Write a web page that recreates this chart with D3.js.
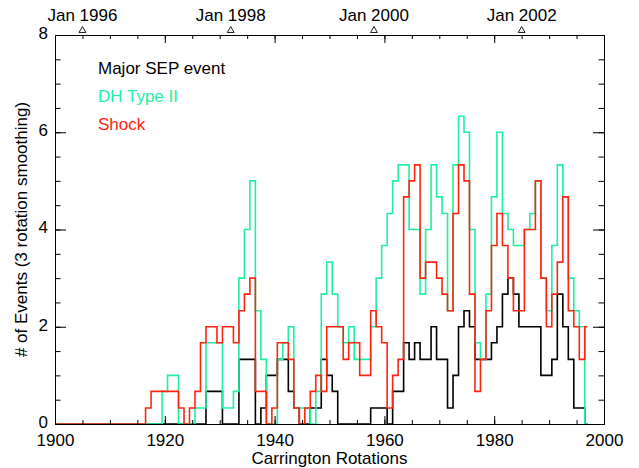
<!DOCTYPE html>
<html>
<meta charset="utf-8">
<style>
  body { margin: 0; background: #fff; }
  text { font-family: "Liberation Sans", Arial, sans-serif; }
</style>
<script src="https://d3js.org/d3.v7.min.js"></script>
<div id="chart"></div>
<script>

// Carrington rotation numbers 1900..1997, one value per rotation
var rotStart = 1900;

var sepEvents = [
  0,0,0,0,0,0,0,0,0,0, 0,0,0,0,0,0,0,0,0,0,            // 1900-1919
  0,0,0,0,0,0,0,0,0.67,0.67, 0.67,0,0,0,1.33,1.33,1.33,0,0.33,1,   // 1920-1939
  1,1.33,1.33,0.67,0.33,0,0,0.33,0.33,1.33, 1,0.67,0,0,0,0,0,0,0.33,0.33, // 1940-1959
  0.33,0,0.67,0.67,1.67,1.33,1.67,1.33,1.33,2, 1.33,1.33,0.33,1,2,2.33,2,1.33,1.33,1.33, // 1960-1979
  1.67,2,2.67,3,2.67,2,2,2,2,1, 1,1.33,2.67,2,1.33,0.33,0.33,0 // 1980-1997
];

var dhTypeII = [
  0,0,0,0,0,0,0,0,0,0, 0,0,0,0,0,0,0,0,0,0,            // 1900-1919
  0.67,1,1,0,0,0,0.33,0.33,1.67,1.67, 1.67,0.33,0.33,0.67,3,4,5,2.33,1.33,0, // 1920-1939
  0,1.33,1.67,2,0.33,0.33,0.33,0,0.67,2.67, 3.33,2.67,2,1.67,2,1.33,1.33,1.33,2,3, // 1940-1959
  3.67,4.33,5,5.33,5.33,4,4,2.67,4,5.33, 4.67,4.33,2.33,5.33,6.33,6,4,1.67,1.33,2.67, // 1960-1979
  4.67,6,4.33,4,3.67,3.67,4,4.33,5,3, 2.33,3.67,5.33,4.67,3,2.33,2,0 // 1980-1997
];

var shock = [
  0,0,0,0,0,0,0,0,0,0, 0,0,0,0,0,0,0,0.33,0.67,0.67,   // 1900-1919
  0.67,0.67,0.67,0.33,0,0.33,0.67,1.67,2,2, 1.67,2,2,1.67,2.33,2.67,3,0.67,0.67,0, // 1920-1939
  0.33,1.67,1.67,1.33,0.33,0,0.33,0.67,1,0.67, 2,2,2,1.33,1.67,1.67,1,1,2.33,2, // 1940-1959
  1.67,0.33,1,1.33,4.67,5,5.33,3,3.33,3.33, 3,2.67,2.33,4.33,5.33,5,2.67,0.67,1.33,2.33, // 1960-1979
  3.67,4.33,3.67,3,2.33,2.33,4,4,5,3, 2,2.67,3.33,4.67,2.33,2,1.33,2 // 1980-1997
];

var xTickLabels = [1900, 1920, 1940, 1960, 1980, 2000];
var yTickLabels = [0, 2, 4, 6, 8];

var dateLabels = ["Jan 1996", "Jan 1998", "Jan 2000", "Jan 2002"];
var dateRotations = [1905.0, 1932.0, 1958.1, 1985.0];

var legendNames = ["Major SEP event", "DH Type II", "Shock"];
var seriesColors = ["#000000", "#1ff0a0", "#ff2412"];

var width = 639, height = 468;
var margin = {top: 35, right: 35, bottom: 44, left: 55};
var fontSize = "17px";

var svg = d3.select("#chart")
  .append("svg")
    .attr("width", width)
    .attr("height", height);

var x = d3.scaleLinear()
  .domain([1900, 2000])
  .range([margin.left, width - margin.right]);

var y = d3.scaleLinear()
  .domain([0, 8])
  .range([height - margin.bottom, margin.top]);

var minorX = d3.range(1900, 2001, 5);
var minorY = d3.range(0, 8.01, 0.5);

// data lines, histogram style (steps halfway between rotations)
var line = d3.line()
  .x(function(d) { return x(d.cr); })
  .y(function(d) { return y(d.v); })
  .curve(d3.curveStep);

[sepEvents, dhTypeII, shock].forEach(function(s, i) {
  var pts = s.map(function(v, j) { return {cr: rotStart + j, v: v}; });
  svg.append("path")
    .datum(pts)
    .attr("fill", "none")
    .attr("stroke", seriesColors[i])
    .attr("stroke-width", 1.6)
    .attr("d", line);
});

// axes
function styleAxis(g) {
  g.selectAll("path.domain").attr("stroke", "#000").attr("stroke-width", 1);
  g.selectAll(".tick line").attr("stroke", "#000").attr("stroke-width", 1);
  g.selectAll(".tick text").attr("fill", "#000")
    .style("font-size", fontSize)
    .style("font-family", "'Liberation Sans', Arial, sans-serif");
}

var yb = height - margin.bottom, xr = width - margin.right;

svg.append("g")
  .attr("transform", "translate(0," + yb + ")")
  .call(d3.axisBottom(x).tickValues(minorX).tickSize(-4).tickSizeOuter(0).tickFormat(""))
  .call(styleAxis);
svg.append("g")
  .attr("transform", "translate(0," + yb + ")")
  .call(d3.axisBottom(x).tickValues(xTickLabels).tickSize(-8).tickSizeOuter(0)
    .tickPadding(10).tickFormat(d3.format("d")))
  .call(styleAxis);

svg.append("g")
  .attr("transform", "translate(0," + margin.top + ")")
  .call(d3.axisTop(x).tickValues(minorX).tickSize(-4).tickSizeOuter(0).tickFormat(""))
  .call(styleAxis);
svg.append("g")
  .attr("transform", "translate(0," + margin.top + ")")
  .call(d3.axisTop(x).tickValues(xTickLabels).tickSize(-8).tickSizeOuter(0).tickFormat(""))
  .call(styleAxis);

svg.append("g")
  .attr("transform", "translate(" + margin.left + ",0)")
  .call(d3.axisLeft(y).tickValues(minorY).tickSize(-5.5).tickSizeOuter(0).tickFormat(""))
  .call(styleAxis);
svg.append("g")
  .attr("transform", "translate(" + margin.left + ",0)")
  .call(d3.axisLeft(y).tickValues(yTickLabels).tickSize(-11).tickSizeOuter(0).tickPadding(7))
  .call(styleAxis)
  .selectAll(".tick text").attr("dy", "0.2em");

svg.append("g")
  .attr("transform", "translate(" + xr + ",0)")
  .call(d3.axisRight(y).tickValues(minorY).tickSize(-5.5).tickSizeOuter(0).tickFormat(""))
  .call(styleAxis);
svg.append("g")
  .attr("transform", "translate(" + xr + ",0)")
  .call(d3.axisRight(y).tickValues(yTickLabels).tickSize(-11).tickSizeOuter(0).tickFormat(""))
  .call(styleAxis);

// date markers on top
var tri = d3.symbol().type(d3.symbolTriangle).size(20);
dateRotations.forEach(function(cr, i) {
  svg.append("path")
    .attr("d", tri())
    .attr("transform", "translate(" + x(cr) + "," + (margin.top - 4.5) + ")")
    .attr("fill", "none")
    .attr("stroke", "#000")
    .attr("stroke-width", 0.9);
  svg.append("text")
    .attr("x", x(cr))
    .attr("y", 21)
    .attr("text-anchor", "middle")
    .style("font-size", fontSize)
    .text(dateLabels[i]);
});

// legend
legendNames.forEach(function(name, i) {
  svg.append("text")
    .attr("x", 98)
    .attr("y", 74 + i * 28)
    .attr("fill", seriesColors[i])
    .style("font-size", fontSize)
    .text(name);
});

// axis titles
svg.append("text")
  .attr("x", (margin.left + xr) / 2)
  .attr("y", 464)
  .attr("text-anchor", "middle")
  .style("font-size", fontSize)
  .text("Carrington Rotations");

svg.append("text")
  .attr("transform", "translate(27," + ((margin.top + yb) / 2) + ") rotate(-90)")
  .attr("text-anchor", "middle")
  .style("font-size", fontSize)
  .text("# of Events (3 rotation smoothing)");

</script>
</html>
